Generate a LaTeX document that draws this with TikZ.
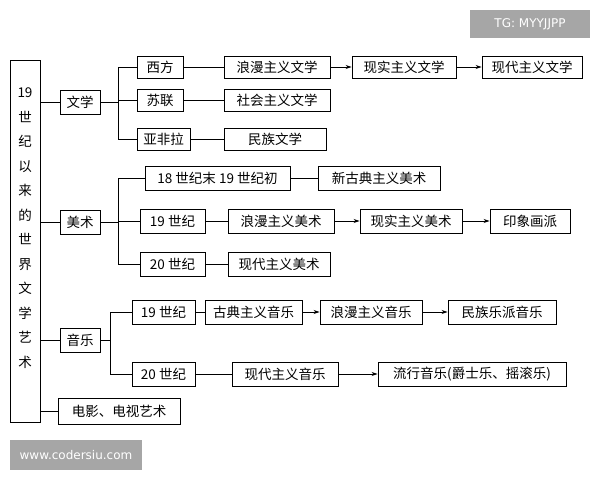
\documentclass[tikz,border=0pt]{standalone}
\usepackage{fontspec}
\setmainfont{Noto Sans CJK SC}
\newfontfamily\wmfont{DejaVu Sans}
\usetikzlibrary{arrows.meta}
\newcommand{\bx}[6]{\node[bx,minimum width={#4-#2},minimum height={#5-#3}] (#1) at ({(#2+#4)/2},{(#3+#5)/2}) {#6};}
\begin{document}
\begin{tikzpicture}[x=1pt,y=-1pt,
  bx/.style={draw,line width=0.9pt,inner sep=0pt,font=\fontsize{13.5}{15}\selectfont},
  ln/.style={line width=0.9pt},
  ar/.style={line width=0.9pt,-{Stealth[length=6pt,width=4pt]}},
  wm/.style={fill=black!35,text=white,inner sep=0pt,font=\wmfont\fontsize{12}{14}\selectfont}]
\useasboundingbox (0,0) rectangle (600,480);
\node[wm,minimum width=120,minimum height=28] (tg) at (530,24) {TG: MYYJJPP};
\node[wm,minimum width=132,minimum height=30] (site) at (76,455) {www.codersiu.com};
\node[draw,line width=0.9pt,minimum width=30,minimum height=362,inner sep=0pt] (root) at (25,241) {};
\node[font=\fontsize{13.5}{24.5}\selectfont,align=center] (rt) at (25,228) {19\\世\\纪\\以\\来\\的\\世\\界\\文\\学\\艺\\术};
% literature
\bx{wx}{60}{90}{100}{114}{文学}
\bx{xf}{137}{56}{183}{78}{西方}
\bx{sl}{137}{89}{183}{111}{苏联}
\bx{yf}{137}{128}{190}{150}{亚非拉}
\bx{lmw}{224}{56}{330}{78}{浪漫主义文学}
\bx{xsw}{352}{56}{456}{78}{现实主义文学}
\bx{xdw}{482}{56}{582}{78}{现代主义文学}
\bx{shw}{224}{89}{330}{111}{社会主义文学}
\bx{mzw}{224}{128}{326}{150}{民族文学}
% art
\bx{ms}{60}{210}{100}{234}{美术}
\bx{a18}{145}{166}{290}{190}{18 世纪末 19 世纪初}
\bx{xgd}{318}{166}{440}{190}{新古典主义美术}
\bx{a19}{140}{209}{205}{233}{19 世纪}
\bx{lmm}{228}{209}{334}{233}{浪漫主义美术}
\bx{xsm}{360}{209}{462}{233}{现实主义美术}
\bx{yx}{490}{209}{570}{233}{印象画派}
\bx{a20}{140}{252}{205}{276}{20 世纪}
\bx{xdm}{228}{252}{330}{276}{现代主义美术}
% music
\bx{yy}{60}{328}{100}{352}{音乐}
\bx{m19}{132}{300}{195}{324}{19 世纪}
\bx{gdy}{205}{300}{302}{324}{古典主义音乐}
\bx{lmy}{320}{300}{422}{324}{浪漫主义音乐}
\bx{mzy}{448}{300}{556}{324}{民族乐派音乐}
\bx{m20}{132}{362}{195}{386}{20 世纪}
\bx{xdy}{232}{362}{338}{386}{现代主义音乐}
\bx{lxy}{378}{362}{566}{386}{流行音乐(爵士乐、摇滚乐)}
\bx{dy}{58}{398}{180}{424}{电影、电视艺术}
% root links
\foreach \n in {wx,ms,yy,dy} \draw[ln] (root.east |- \n.west) -- (\n.west);
% buses
\coordinate (b1) at (118,0); \coordinate (b2) at (118,0); \coordinate (b3) at (110,0);
\draw[ln] (wx.east) -- (wx.east -| b1);
\draw[ln] (xf.west -| b1) -- (yf.west -| b1);
\foreach \n in {xf,sl,yf} \draw[ln] (\n.west -| b1) -- (\n.west);
\draw[ln] (ms.east) -- (ms.east -| b2);
\draw[ln] (a18.west -| b2) -- (a20.west -| b2);
\foreach \n in {a18,a19,a20} \draw[ln] (\n.west -| b2) -- (\n.west);
\draw[ln] (yy.east) -- (yy.east -| b3);
\draw[ln] (m19.west -| b3) -- (m20.west -| b3);
\foreach \n in {m19,m20} \draw[ln] (\n.west -| b3) -- (\n.west);
% chains
\draw[ln] (xf) -- (lmw); \draw[ar] (lmw) -- (xsw); \draw[ar] (xsw) -- (xdw);
\draw[ln] (sl) -- (shw); \draw[ln] (yf) -- (mzw);
\draw[ln] (a18) -- (xgd);
\draw[ln] (a19) -- (lmm); \draw[ar] (lmm) -- (xsm); \draw[ar] (xsm) -- (yx);
\draw[ln] (a20) -- (xdm);
\draw[ln] (m19) -- (gdy); \draw[ar] (gdy) -- (lmy); \draw[ar] (lmy) -- (mzy);
\draw[ln] (m20) -- (xdy); \draw[ar] (xdy) -- (lxy);
\end{tikzpicture}
\end{document}
